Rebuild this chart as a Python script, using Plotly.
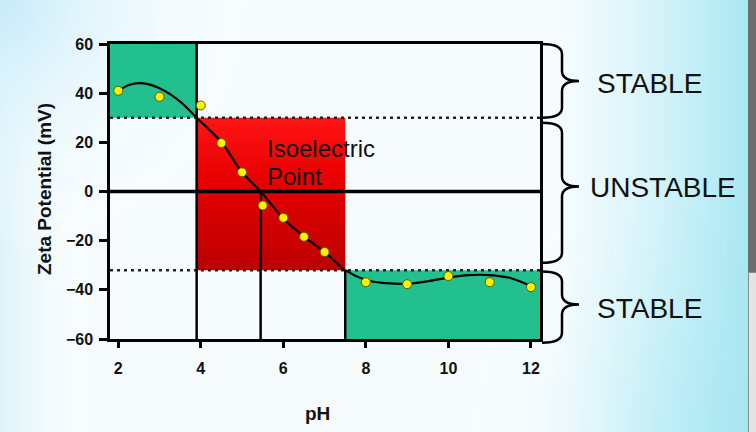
import base64
import plotly.graph_objects as go

# ---------------- data ----------------
ph_points = [2, 3, 4, 4.5, 5, 5.5, 6, 6.5, 7, 8, 9, 10, 11, 12]
zeta_points = [41, 38.5, 35, 19.7, 7.8, -5.7, -10.7, -18.4, -24.6, -36.9, -37.7, -34.4, -36.9, -38.9]

ph_curve = [2.0, 2.3, 2.6, 3.0, 3.5, 3.9, 4.5, 5.0, 5.45, 6.0, 6.5, 7.0, 7.5,
            8.0, 8.5, 9.0, 9.5, 10.0, 10.5, 11.0, 11.5, 12.0]
zeta_curve = [41, 43.5, 44, 42, 36.6, 30, 20, 7.8, 0, -11, -18.4, -24.6, -32,
              -36, -37.3, -37.5, -36.5, -35, -34, -34, -35.2, -38.5]

x_ticks = [2, 4, 6, 8, 10, 12]
y_ticks = [-60, -40, -20, 0, 20, 40, 60]
x_range = [1.8, 12.22]
y_range = [-60, 60]

stable_upper = 30
stable_lower = -32
iep = 5.45
zone_left = 3.9
zone_right = 7.5

zone_labels = ["STABLE", "UNSTABLE", "STABLE"]
zone_label_y = [44, 1.8, -47.4]
brace_spans = [(60, 30, 45), (28, -29, 2), (-32.5, -61.5, -46)]

# ---------------- layout geometry ----------------
W, H = 756, 432
ML, MR, MT, MB = 110, 216, 44, 93
PW, PH = W - ML - MR, H - MT - MB

FONT = "Liberation Sans, Arial, sans-serif"
GREEN = "#22c08f"


def px_to_paper_x(px):
    return (px - ML) / PW


def val_to_paper_y(v):
    return (v - y_range[0]) / (y_range[1] - y_range[0])


fig = go.Figure()

# green stable zones
fig.add_trace(go.Scatter(
    x=[x_range[0], zone_left, zone_left, x_range[0], x_range[0]],
    y=[stable_upper, stable_upper, y_range[1], y_range[1], stable_upper],
    fill="toself", fillcolor=GREEN, mode="lines", line=dict(width=0),
    hoverinfo="skip", showlegend=False))
fig.add_trace(go.Scatter(
    x=[zone_right, x_range[1], x_range[1], zone_right, zone_right],
    y=[y_range[0], y_range[0], stable_lower, stable_lower, y_range[0]],
    fill="toself", fillcolor=GREEN, mode="lines", line=dict(width=0),
    hoverinfo="skip", showlegend=False))

# red unstable zone with vertical gradient
fig.add_trace(go.Scatter(
    x=[zone_left, zone_right, zone_right, zone_left, zone_left],
    y=[stable_upper, stable_upper, stable_lower, stable_lower, stable_upper],
    fill="toself", mode="lines", line=dict(width=0),
    fillgradient=dict(type="vertical",
                      colorscale=[[0, "#bc0000"], [0.6, "#e80000"], [1, "#ff1414"]]),
    hoverinfo="skip", showlegend=False))

line_style = dict(color="black", width=2.5)
# zero line
fig.add_trace(go.Scatter(x=x_range, y=[0, 0], mode="lines",
                         line=dict(color="black", width=3.5),
                         hoverinfo="skip", showlegend=False))
# dotted thresholds
for yv in (stable_upper, stable_lower):
    fig.add_trace(go.Scatter(x=x_range, y=[yv, yv], mode="lines",
                             line=dict(color="#222222", width=2.5, dash="3px,4px"),
                             hoverinfo="skip", showlegend=False))
# vertical separators
fig.add_trace(go.Scatter(x=[zone_left, zone_left], y=y_range, mode="lines",
                         line=line_style, hoverinfo="skip", showlegend=False))
fig.add_trace(go.Scatter(x=[iep, iep], y=[0, y_range[0]], mode="lines",
                         line=line_style, hoverinfo="skip", showlegend=False))
fig.add_trace(go.Scatter(x=[zone_right, zone_right], y=[stable_lower, y_range[0]], mode="lines",
                         line=line_style, hoverinfo="skip", showlegend=False))

# fitted curve
fig.add_trace(go.Scatter(x=ph_curve, y=zeta_curve, mode="lines",
                         line=dict(color="black", width=2.2, shape="spline", smoothing=1.0),
                         hoverinfo="skip", showlegend=False))
# measured points
fig.add_trace(go.Scatter(x=ph_points, y=zeta_points, mode="markers",
                         marker=dict(color="#fff200", size=9,
                                     line=dict(color="#5c5a00", width=1)),
                         showlegend=False))

# ---------------- braces on the right ----------------
x_end = px_to_paper_x(542)
x_spine = px_to_paper_x(562)
x_tip = px_to_paper_x(579)
r = 10 / PH
shapes = []
for top, bot, tip in brace_spans:
    yt, yb, ym = val_to_paper_y(top), val_to_paper_y(bot), val_to_paper_y(tip)
    path = (f"M {x_end},{yt} Q {x_spine},{yt} {x_spine},{yt - r} "
            f"L {x_spine},{ym + r} Q {x_spine},{ym} {x_tip},{ym} "
            f"Q {x_spine},{ym} {x_spine},{ym - r} "
            f"L {x_spine},{yb + r} Q {x_spine},{yb} {x_end},{yb}")
    shapes.append(dict(type="path", path=path, xref="paper", yref="paper",
                       line=dict(color="black", width=2.5), layer="above"))

annotations = []
label_x_px = [595, 588, 595]
for txt, yv, lx in zip(zone_labels, zone_label_y, label_x_px):
    annotations.append(dict(text=txt, x=px_to_paper_x(lx), y=yv, xref="paper", yref="y",
                            xanchor="left", yanchor="middle", showarrow=False,
                            font=dict(family=FONT, size=28, color="#111111")))

annotations.append(dict(text="Isoelectric", x=5.56, y=17.5, xref="x", yref="y",
                        xanchor="left", yanchor="middle", showarrow=False,
                        font=dict(family=FONT, size=24, color="#111111")))
annotations.append(dict(text="Point", x=5.56, y=6.3, xref="x", yref="y",
                        xanchor="left", yanchor="middle", showarrow=False,
                        font=dict(family=FONT, size=24, color="#111111")))
annotations.append(dict(text="Zeta Potential (mV)", x=px_to_paper_x(44), y=1,
                        xref="paper", yref="y", textangle=-90,
                        xanchor="center", yanchor="middle", showarrow=False,
                        font=dict(family=FONT, size=19, color="#111111", weight="bold")))
annotations.append(dict(text="pH", x=6.82, y=(H - MB - 413) / PH,
                        xref="x", yref="paper", xanchor="center", yanchor="middle",
                        showarrow=False,
                        font=dict(family=FONT, size=19, color="#111111", weight="bold")))

# ---------------- background (soft cyan gradient) ----------------
svg = f"""<svg xmlns='http://www.w3.org/2000/svg' width='{W}' height='{H}' viewBox='0 0 {W} {H}'>
<defs>
<radialGradient id='tl' cx='0' cy='0' r='260' gradientUnits='userSpaceOnUse'>
<stop offset='0' stop-color='#c6ebf9'/><stop offset='1' stop-color='#ffffff' stop-opacity='0'/></radialGradient>
<linearGradient id='lf' x1='0' y1='0' x2='90' y2='0' gradientUnits='userSpaceOnUse'>
<stop offset='0' stop-color='#dcf3fa'/><stop offset='1' stop-color='#ffffff' stop-opacity='0'/></linearGradient>
<linearGradient id='rt' x1='560' y1='0' x2='748' y2='0' gradientUnits='userSpaceOnUse'>
<stop offset='0' stop-color='#bfeef6' stop-opacity='0'/><stop offset='1' stop-color='#a8e7f2'/></linearGradient>
<radialGradient id='br' cx='756' cy='432' r='300' gradientUnits='userSpaceOnUse'>
<stop offset='0' stop-color='#ace8f3'/><stop offset='1' stop-color='#ffffff' stop-opacity='0'/></radialGradient>
</defs>
<rect width='{W}' height='{H}' fill='#f6fcfe'/>
<rect width='{W}' height='{H}' fill='url(#lf)'/>
<rect width='{W}' height='{H}' fill='url(#tl)'/>
<rect width='{W}' height='{H}' fill='url(#br)'/>
<rect width='{W}' height='{H}' fill='url(#rt)'/>
<rect x='748' y='0' width='8' height='272' fill='#6d6d6d'/>
<rect x='748.5' y='272.5' width='8' height='160' fill='#e4e4e4' stroke='#8a8a8a' stroke-width='1'/>
</svg>"""
svg_uri = "data:image/svg+xml;base64," + base64.b64encode(svg.encode()).decode()

fig.update_layout(
    width=W, height=H, autosize=False,
    margin=dict(l=ML, r=MR, t=MT, b=MB, pad=0),
    paper_bgcolor="white", plot_bgcolor="white",
    font=dict(family=FONT, color="#111111"),
    shapes=shapes, annotations=annotations,
    images=[dict(source=svg_uri, xref="paper", yref="paper",
                 x=-ML / PW, y=1 + MT / PH, sizex=W / PW, sizey=H / PH,
                 xanchor="left", yanchor="top", sizing="stretch", layer="below")],
    xaxis=dict(range=x_range, tickvals=x_ticks, showgrid=False, zeroline=False,
               showline=True, mirror=True, linecolor="black", linewidth=2.5,
               ticks="outside", ticklen=6, tickwidth=2.5, tickcolor="black",
               ticklabelstandoff=7,
               tickfont=dict(family=FONT, size=16, color="#111111", weight="bold")),
    yaxis=dict(range=y_range, tickvals=y_ticks, showgrid=False, zeroline=False,
               showline=True, mirror=True, linecolor="black", linewidth=2.5,
               ticks="outside", ticklen=8, tickwidth=2.5, tickcolor="black",
               ticklabelstandoff=3,
               tickfont=dict(family=FONT, size=16, color="#111111", weight="bold")),
)

fig.write_html("out.html")
